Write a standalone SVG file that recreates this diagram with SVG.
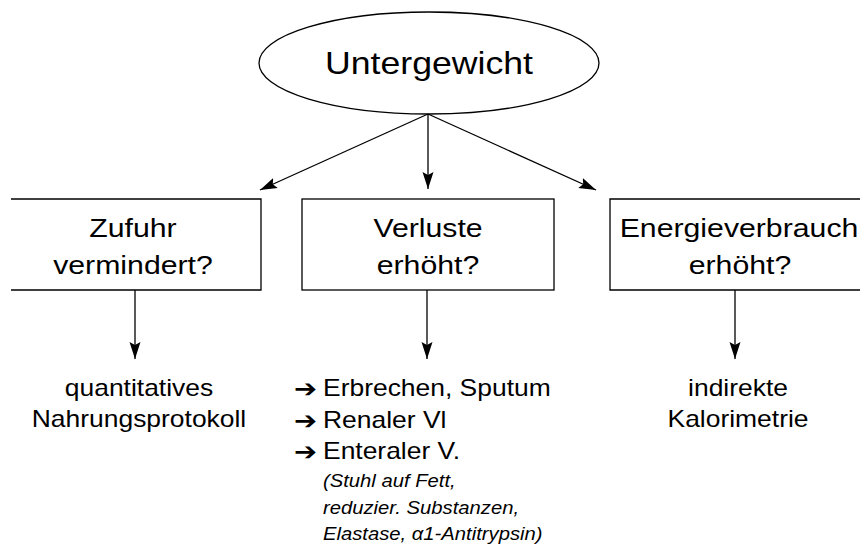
<svg xmlns="http://www.w3.org/2000/svg" width="860" height="547" viewBox="0 0 860 547">
<style>
.shape{fill:#fff;stroke:#000;stroke-width:1.3}
.edge{fill:none;stroke:#000;stroke-width:1.3}
.t{font-family:"Liberation Sans",Arial,sans-serif;fill:#000}
.title{font-size:31px;text-anchor:middle}
.box{font-size:26.3px;text-anchor:middle}
.lab{font-size:23px}
.mid{text-anchor:middle}
.it{font-size:17.6px;font-style:italic}
.bul{font-family:"DejaVu Sans",sans-serif;font-size:25px;font-weight:bold}
</style>
<defs>
<marker id="ah" markerWidth="18" markerHeight="12" viewBox="0 0 18 12" refX="17" refY="6" orient="auto" markerUnits="userSpaceOnUse">
<path d="M0,0.5 L17,6 L0,11.5 L3,6 Z" fill="#000"/>
</marker>
</defs>
<rect width="860" height="547" fill="#fff"/>
<g id="untergewicht">
<ellipse class="shape" cx="429" cy="63" rx="170" ry="51"/>
<text class="t title" transform="translate(429 74) scale(1.15 1)">Untergewicht</text>
</g>
<g id="zufuhr">
<path class="shape" d="M11,199 H261 V290 H11"/>
<text class="t box" transform="translate(133 237) scale(1.15 1)">Zufuhr</text>
<text class="t box" transform="translate(133 274) scale(1.15 1)">vermindert?</text>
</g>
<g id="verluste">
<rect class="shape" x="302" y="199" width="252" height="91"/>
<text class="t box" transform="translate(428 237) scale(1.15 1)">Verluste</text>
<text class="t box" transform="translate(428 274) scale(1.15 1)">erhöht?</text>
</g>
<g id="energie">
<path class="shape" d="M870,199 H610 V290 H870"/>
<text class="t box" transform="translate(739 237) scale(1.15 1)">Energieverbrauch</text>
<text class="t box" transform="translate(740 274) scale(1.15 1)">erhöht?</text>
</g>
<g id="protokoll">
<text class="t lab mid" transform="translate(139 396) scale(1.15 1)">quantitatives</text>
<text class="t lab mid" transform="translate(139 427) scale(1.15 1)">Nahrungsprotokoll</text>
</g>
<g id="verluste-liste">
<text class="t bul" transform="translate(294 397) scale(1.1 1)">➔</text>
<text class="t lab" transform="translate(323 396) scale(1.15 1)">Erbrechen, Sputum</text>
<text class="t bul" transform="translate(294 429) scale(1.1 1)">➔</text>
<text class="t lab" transform="translate(323 428) scale(1.15 1)">Renaler Vl</text>
<text class="t bul" transform="translate(294 460) scale(1.1 1)">➔</text>
<text class="t lab" transform="translate(323 459) scale(1.15 1)">Enteraler V.</text>
<text class="t it" transform="translate(323 487) scale(1.15 1)">(Stuhl auf Fett,</text>
<text class="t it" transform="translate(323 514) scale(1.15 1)">reduzier. Substanzen,</text>
<text class="t it" transform="translate(323 540) scale(1.15 1)">Elastase, α1-Antitrypsin)</text>
</g>
<g id="kalorimetrie">
<text class="t lab mid" transform="translate(738 396) scale(1.15 1)">indirekte</text>
<text class="t lab mid" transform="translate(738 427) scale(1.15 1)">Kalorimetrie</text>
</g>
<g id="connectors">
<line class="edge" x1="428" y1="114" x2="260" y2="190" marker-end="url(#ah)"/>
<line class="edge" x1="428" y1="114" x2="428" y2="189" marker-end="url(#ah)"/>
<line class="edge" x1="428" y1="114" x2="596" y2="190" marker-end="url(#ah)"/>
<line class="edge" x1="135" y1="290" x2="135" y2="359" marker-end="url(#ah)"/>
<line class="edge" x1="427" y1="290" x2="427" y2="359" marker-end="url(#ah)"/>
<line class="edge" x1="735" y1="290" x2="735" y2="359" marker-end="url(#ah)"/>
</g>
</svg>
